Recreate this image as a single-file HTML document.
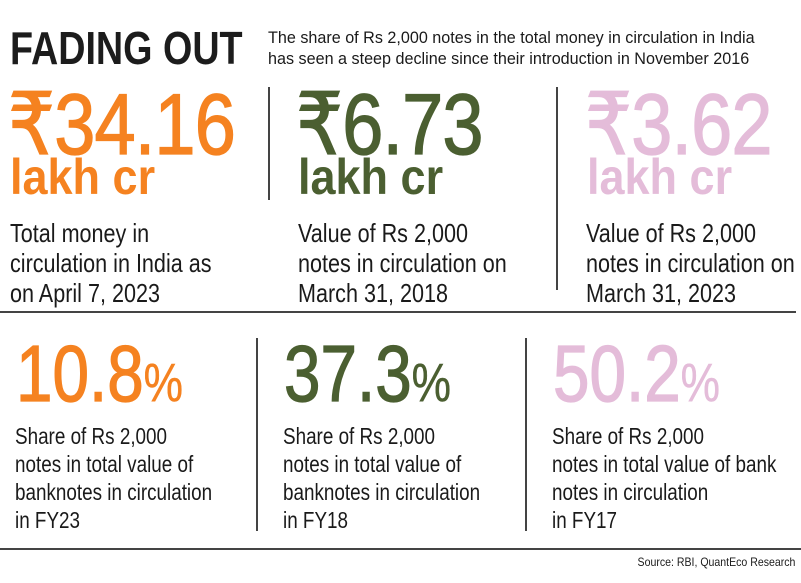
<!DOCTYPE html>
<html><head><meta charset="utf-8"><style>
body{margin:0;width:801px;height:583px;background:#fff;position:relative;overflow:hidden;font-family:"Liberation Sans","DejaVu Sans",sans-serif;color:#1a1a1a}
.a{position:absolute;white-space:nowrap;transform-origin:0 0}
.t{font-weight:bold;font-size:46px;left:10px;top:21px;transform:scaleX(0.82);color:#1c1c1c}
.s{font-size:17px;left:268px;line-height:21px;top:27px;transform:scaleX(0.95)}
.big{font-size:86px;line-height:86px;transform:scaleX(0.86);font-weight:normal;-webkit-text-stroke:1.3px currentColor;letter-spacing:-1px}
.lk{font-size:50px;font-weight:bold;line-height:50px;transform:scaleX(0.9)}
.d{font-size:26px;line-height:30px;transform:scaleX(0.83)}
.p{font-size:80px;line-height:80px;transform:scaleX(0.82);font-weight:normal;-webkit-text-stroke:1.3px currentColor}
.p span{font-size:54px;-webkit-text-stroke:0.5px currentColor}
.d2{font-size:23px;line-height:28px;transform:scaleX(0.82)}
.o{color:#f58220}.g{color:#4b5f31}.k{color:#e4bcd9}
.vl{position:absolute;width:2px;background:#444}
.hl{position:absolute;height:2px;background:#444;left:0}
</style></head><body>
<div class="a t">FADING OUT</div>
<div class="a s">The share of Rs 2,000 notes in the total money in circulation in India<br>has seen a steep decline since their introduction in November 2016</div>

<div class="a big o" style="left:8px;top:82px">₹34.16</div>
<div class="a lk o" style="left:10px;top:152px">lakh cr</div>
<div class="a d" style="left:10px;top:218px">Total money in<br>circulation in India as<br>on April 7, 2023</div>

<div class="vl" style="left:268px;top:87px;height:113px"></div>
<div class="a big g" style="left:296px;top:82px">₹6.73</div>
<div class="a lk g" style="left:298px;top:152px">lakh cr</div>
<div class="a d" style="left:298px;top:218px">Value of Rs 2,000<br>notes in circulation on<br>March 31, 2018</div>

<div class="vl" style="left:556px;top:87px;height:203px"></div>
<div class="a big k" style="left:585px;top:82px">₹3.62</div>
<div class="a lk k" style="left:587px;top:152px">lakh cr</div>
<div class="a d" style="left:586px;top:218px">Value of Rs 2,000<br>notes in circulation on<br>March 31, 2023</div>

<div class="hl" style="top:311px;width:796px"></div>

<div class="a p o" style="left:16px;top:334px">10.8<span>%</span></div>
<div class="a d2" style="left:15px;top:422px">Share of Rs 2,000<br>notes in total value of<br>banknotes in circulation<br>in FY23</div>

<div class="vl" style="left:256px;top:338px;height:193px"></div>
<div class="a p g" style="left:284px;top:334px">37.3<span>%</span></div>
<div class="a d2" style="left:283px;top:422px">Share of Rs 2,000<br>notes in total value of<br>banknotes in circulation<br>in FY18</div>

<div class="vl" style="left:525px;top:338px;height:193px"></div>
<div class="a p k" style="left:553px;top:334px">50.2<span>%</span></div>
<div class="a d2" style="left:552px;top:422px">Share of Rs 2,000<br>notes in total value of bank<br>notes in circulation<br>in FY17</div>

<div class="hl" style="top:548px;width:801px"></div>
<div class="a" style="font-size:12px;right:6px;top:555px;transform:scaleX(0.88);transform-origin:100% 0">Source: RBI, QuantEco Research</div>
</body></html>
